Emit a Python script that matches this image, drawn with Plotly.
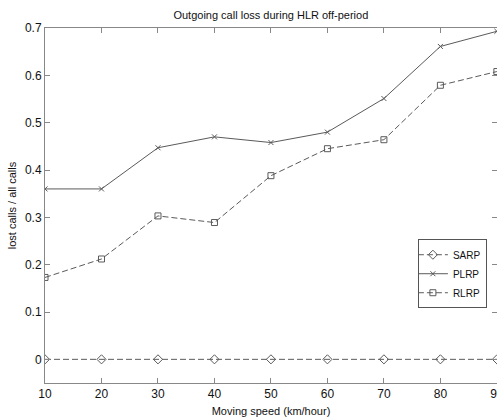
import plotly.graph_objects as go

speeds = [10, 20, 30, 40, 50, 60, 70, 80, 90]
sarp = [0, 0, 0, 0, 0, 0, 0, 0, 0]
plrp = [0.36, 0.36, 0.447, 0.47, 0.458, 0.48, 0.551, 0.661, 0.693]
rlrp = [0.173, 0.212, 0.303, 0.289, 0.388, 0.445, 0.464, 0.579, 0.608]
tick_labels = ["10", "20", "30", "40", "50", "60", "70", "80", "90"]

line_color = "#5a5a5a"
dash = "6px,3px"
fig = go.Figure()
fig.add_trace(go.Scatter(x=speeds, y=sarp, name="SARP", mode="lines+markers",
                         line=dict(color=line_color, width=1, dash=dash),
                         marker=dict(symbol="diamond-open", size=7, color=line_color, line=dict(width=1))))
fig.add_trace(go.Scatter(x=speeds, y=plrp, name="PLRP", mode="lines+markers",
                         line=dict(color=line_color, width=1),
                         marker=dict(symbol="x-thin-open", size=5, color=line_color, line=dict(width=1, color=line_color))))
fig.add_trace(go.Scatter(x=speeds, y=rlrp, name="RLRP", mode="lines+markers",
                         line=dict(color=line_color, width=1, dash=dash),
                         marker=dict(symbol="square-open", size=6, color=line_color, line=dict(width=1))))

axis_common = dict(showline=True, linecolor="#888888", linewidth=1, mirror="ticks",
                   ticks="inside", ticklen=5, tickcolor="#888888", showgrid=False, zeroline=False,
                   tickfont=dict(family="Arial", size=12, color="#111111"), ticklabeloverflow="allow",
                   automargin=False)

fig.update_layout(
    width=497, height=417,
    margin=dict(l=45, r=0, t=28, b=34),
    paper_bgcolor="white", plot_bgcolor="white",
    title=dict(text="Outgoing call loss during HLR off-period", x=0.545, xanchor="center",
               y=1 - 15/417, yanchor="middle", font=dict(family="Arial", size=11, color="#111111")),
    xaxis=dict(range=[10, 90.02], tickvals=speeds, ticktext=tick_labels,
               title=dict(text="Moving speed (km/hour)", standoff=8, font=dict(family="Arial", size=11, color="#111111")),
               **axis_common),
    yaxis=dict(range=[-0.05, 0.7], tickvals=[0, 0.1, 0.2, 0.3, 0.4, 0.5, 0.6, 0.7],
               ticktext=["0", "0.1", "0.2", "0.3", "0.4", "0.5", "0.6", "0.7"],
               title=dict(text="lost calls / all calls", standoff=6, font=dict(family="Arial", size=11, color="#111111")),
               **axis_common),
    legend=dict(x=0.825, y=0.405, xanchor="left", yanchor="top", bgcolor="white",
                bordercolor="#555555", borderwidth=1, font=dict(family="Arial", size=10, color="#111111"),
                tracegroupgap=0, itemwidth=30, indentation=-6),
    showlegend=True,
)
fig.write_html("out.html")
